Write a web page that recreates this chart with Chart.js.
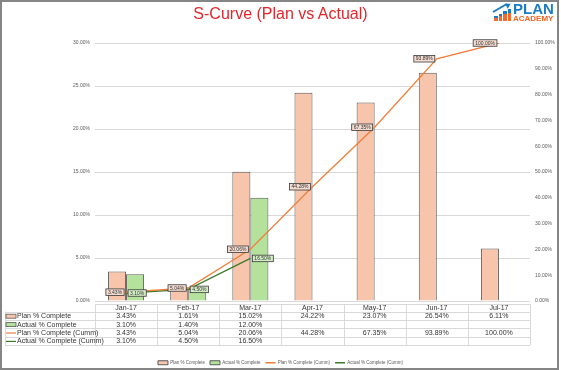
<!DOCTYPE html>
<html>
<head>
<meta charset="utf-8">
<script src="https://cdn.jsdelivr.net/npm/chart.js@4.4.1/dist/chart.umd.min.js"></script>
<style>
body{margin:0;background:#fff;font-family:"Liberation Sans",Arial,sans-serif;}
#wrap{position:relative;width:561px;height:370px;overflow:hidden;background:#fff;}
#chart{position:absolute;left:0;top:0;}
#frame{position:absolute;left:0;top:0;width:559px;height:370px;box-sizing:border-box;border:2px solid #858585;pointer-events:none;}
#title{position:absolute;left:0;top:5px;width:561px;text-align:center;color:#e0262d;font-size:16px;line-height:18px;}
.logo-bar{position:absolute;bottom:0;width:3.5px;background:linear-gradient(#1b7cc2 0,#1b7cc2 35%,#f26a2c 35%,#f26a2c 100%);}
#logo{position:absolute;left:492px;top:0;width:66px;height:24px;}
#logo .plan{position:absolute;left:21px;top:1px;font-weight:bold;font-size:15px;line-height:15px;color:#1d7cc2;}
#logo .acad{position:absolute;left:21px;top:14.5px;font-weight:bold;font-size:8px;line-height:8px;color:#f26522;}
#icon{position:absolute;left:1px;top:3px;width:19px;height:18px;}
#arrow{position:absolute;left:0;top:8px;width:16px;height:2px;background:#1b7cc2;transform-origin:0 50%;transform:rotate(-30deg);}
#arrowhead{position:absolute;left:13px;top:-1px;width:0;height:0;border-left:5px solid #1b7cc2;border-top:3px solid transparent;border-bottom:3px solid transparent;transform:rotate(-30deg);}
</style>
</head>
<body>
<div id="wrap">
  <canvas id="chart" width="561" height="370"></canvas>
  <div id="title">S-Curve (Plan vs Actual)</div>
  <div id="logo">
    <div id="icon">
      <div class="logo-bar" style="left:1px;height:5px"></div>
      <div class="logo-bar" style="left:5.5px;height:7.5px"></div>
      <div class="logo-bar" style="left:10px;height:10px"></div>
      <div class="logo-bar" style="left:14.5px;height:12.5px"></div>
      <div id="arrow"></div>
      <div id="arrowhead"></div>
    </div>
    <div class="plan">PLAN</div>
    <div class="acad">ACADEMY</div>
  </div>
  <div id="frame"></div>
</div>
<script>
// values (percent)
const months=['Jan-17','Feb-17','Mar-17','Apr-17','May-17','Jun-17','Jul-17'];
const planPct=[3.43,1.61,15.02,24.22,23.07,26.54,6.11];
const actualPct=[3.10,1.40,12.00,null,null,null,null];
const planCumm=[3.43,5.04,20.06,44.28,67.35,93.89,100.00];
const actualCumm=[3.10,4.50,16.50,null,null,null,null];
const seriesNames=['Plan % Complete','Actual % Complete','Plan % Complete (Cumm)','Actual % Complete (Cumm)'];
const leftMax=30, leftStep=5, rightMax=100, rightStep=10;

const FONT='"Liberation Sans", Arial, sans-serif';
const PLOT_BOTTOM=301, PAD_BOTTOM=-5;
const PLAN_FILL='#f7c5ac', ACT_FILL='#b4e29c', BAR_EDGE='#595959';
const PLAN_LINE='#f07f3c', ACT_LINE='#3f7a2b';
const labelBg={2:'#f4dcd0',3:'#d5eec7'};

const fmt=v=>(v===null||v===undefined)?'':v.toFixed(2)+'%';

// boxed value labels next to the cumulative points
const pointLabels={
  id:'pointLabels',
  afterDatasetsDraw(chart){
    const c=chart.ctx;
    c.save();
    c.font='5px '+FONT;
    c.textBaseline='middle';
    [2,3].forEach(di=>{
      const meta=chart.getDatasetMeta(di);
      const data=chart.data.datasets[di].data;
      meta.data.forEach((pt,i)=>{
        if(data[i]===null) return;
        const t=fmt(data[i]);
        const w=c.measureText(t).width+4, h=6.5;
        const x=di===2 ? pt.x-2-w : pt.x+2;
        const y=pt.y-h/2;
        c.fillStyle=labelBg[di];
        c.fillRect(x,y,w,h);
        c.strokeStyle='#3a3a3a'; c.lineWidth=0.8;
        c.strokeRect(x,y,w,h);
        c.fillStyle='#333';
        c.textAlign='center';
        c.fillText(t,x+w/2,pt.y+0.3);
      });
    });
    c.restore();
  }
};

// data table under the plot, aligned with the category scale
const dataTable={
  id:'dataTable',
  afterDraw(chart){
    const c=chart.ctx, xs=chart.scales.x, area=chart.chartArea;
    const n=months.length, colW=(area.right-area.left)/n;
    const top=304, headH=7.5, rowH=8.4, labelLeft=5;
    const rows=[planPct,actualPct,planCumm,actualCumm];
    const bottom=top+headH+rowH*rows.length;
    c.save();
    c.strokeStyle='#d9d9d9'; c.lineWidth=1;
    c.beginPath();
    c.moveTo(area.left,top+0.5); c.lineTo(area.right,top+0.5);
    for(let r=0;r<=rows.length;r++){
      const y=Math.round(top+headH+rowH*r)+0.5;
      c.moveTo(labelLeft,y); c.lineTo(area.right,y);
    }
    for(let k=0;k<=n;k++){
      const x=Math.round(area.left+colW*k)+0.5;
      c.moveTo(x,top); c.lineTo(x,bottom);
    }
    c.moveTo(labelLeft+0.5,top+headH); c.lineTo(labelLeft+0.5,bottom);
    c.stroke();

    c.font='7px '+FONT;
    c.fillStyle='#333';
    c.textBaseline='middle';
    c.textAlign='center';
    months.forEach((m,i)=>c.fillText(m,xs.getPixelForValue(i),top+headH/2+0.5));
    rows.forEach((vals,r)=>{
      const cy=top+headH+rowH*r+rowH/2+0.5;
      c.textAlign='center';
      vals.forEach((v,i)=>c.fillText(fmt(v),xs.getPixelForValue(i),cy));
      // legend key + series name
      if(r<2){
        c.fillStyle=r===0?PLAN_FILL:ACT_FILL;
        c.fillRect(labelLeft+1,cy-2,10,4);
        c.strokeStyle=BAR_EDGE; c.lineWidth=0.8;
        c.strokeRect(labelLeft+1,cy-2,10,4);
      }else{
        c.strokeStyle=r===2?PLAN_LINE:ACT_LINE; c.lineWidth=1.2;
        c.beginPath(); c.moveTo(labelLeft+1,cy); c.lineTo(labelLeft+11,cy); c.stroke();
      }
      c.fillStyle='#333';
      c.textAlign='left';
      c.fillText(seriesNames[r],labelLeft+12,cy);
    });
    c.restore();
  }
};

new Chart(document.getElementById('chart'),{
  data:{
    labels:months,
    datasets:[
      {type:'bar',label:seriesNames[0],data:planPct,yAxisID:'y',order:2,
       backgroundColor:PLAN_FILL,borderColor:BAR_EDGE,borderWidth:1,pointStyle:'rect'},
      {type:'bar',label:seriesNames[1],data:actualPct,yAxisID:'y',order:2,
       backgroundColor:ACT_FILL,borderColor:BAR_EDGE,borderWidth:1,pointStyle:'rect'},
      {type:'line',label:seriesNames[2],data:planCumm,yAxisID:'y1',order:1,
       borderColor:PLAN_LINE,backgroundColor:PLAN_LINE,borderWidth:1.3,pointRadius:0,pointStyle:'line',tension:0},
      {type:'line',label:seriesNames[3],data:actualCumm,yAxisID:'y1',order:1,
       borderColor:ACT_LINE,backgroundColor:ACT_LINE,borderWidth:1.3,pointRadius:0,pointStyle:'line',tension:0}
    ]
  },
  options:{
    responsive:false,
    animation:false,
    layout:{padding:{top:43,bottom:PAD_BOTTOM,left:0,right:0}},
    datasets:{bar:{categoryPercentage:0.58,barPercentage:1}},
    plugins:{
      title:{display:false},
      tooltip:{enabled:false},
      legend:{
        position:'bottom',
        labels:{
          usePointStyle:true,pointStyleWidth:10,boxHeight:4,padding:5,
          color:'#595959',font:{size:4.5,family:FONT},
          sort:(a,b)=>a.datasetIndex-b.datasetIndex
        }
      }
    },
    scales:{
      x:{
        type:'category',
        ticks:{display:false},
        grid:{display:false},
        border:{display:false},
        afterFit(s){
          const lg=s.chart.legend ? s.chart.legend.height : 0;
          s.height=Math.max(0,s.chart.height-PAD_BOTTOM-PLOT_BOTTOM-lg);
        }
      },
      y:{
        position:'left',min:0,max:leftMax,
        ticks:{stepSize:leftStep,padding:5,color:'#595959',font:{size:5,family:FONT},callback:v=>v.toFixed(2)+'%'},
        grid:{color:'#d9d9d9',lineWidth:1,drawTicks:false},
        border:{display:false},
        afterFit(s){s.width=95;}
      },
      y1:{
        position:'right',min:0,max:rightMax,
        ticks:{stepSize:rightStep,padding:5,color:'#595959',font:{size:5,family:FONT},callback:v=>v.toFixed(2)+'%'},
        grid:{display:false,drawTicks:false},
        border:{display:false},
        afterFit(s){s.width=31;}
      }
    }
  },
  plugins:[pointLabels,dataTable]
});
</script>
</body>
</html>
